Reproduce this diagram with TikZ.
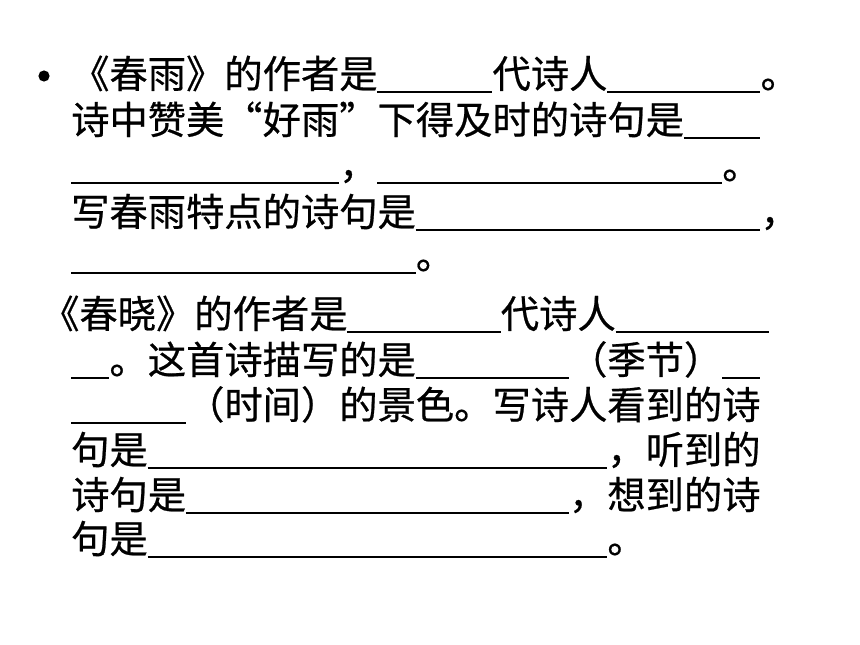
\documentclass[tikz,border=0pt]{standalone}
\usepackage{fontspec}
\setmainfont{Noto Sans CJK SC}[FakeBold=0.6]
\begin{document}
\begin{tikzpicture}[x=1pt,y=-1pt,
		every node/.style={anchor=base west,inner sep=0pt,font=\fontsize{38.3}{46}\selectfont},
		blank/.style={line width=2.2pt}]
		\useasboundingbox (0,0) rectangle (860,645);
		% bullet
		\fill (44,76) circle [radius=5.6];
		% chun yu
		\node (a1) at (71,88) {《春雨》的作者是};
		\node (a2) at (492.3,88) {代诗人};
		\node (a3) at (760.4,88) {。};
		\draw [blank] (377.4,92) -- (492.3,92) (607.2,92) -- (760.4,92);
		\node (b1) at (71,134) {诗中赞美};
		\node [anchor=base east] (b2) at (262.5,134) {“};
		\node (b3) at (262.5,134) {好雨};
		\node (b4) at (339.1,134) {”};
		\node (b5) at (377.4,134) {下得及时的诗句是};
		\draw [blank] (683.8,138) -- (760.4,138);
		\node (c1) at (339.1,179) {，};
		\node (c2) at (722.1,179) {。};
		\draw [blank] (71,183) -- (339.1,183) (377.4,183) -- (722.1,183);
		\node (d1) at (71,226) {写春雨特点的诗句是};
		\node (d2) at (760.4,226) {，};
		\draw [blank] (415.7,230) -- (760.4,230);
		\node (e1) at (415.7,269) {。};
		\draw [blank] (71,273) -- (415.7,273);
		% chun xiao
		\node (f1) at (41,328) {《春晓》的作者是};
		\node (f2) at (500.6,328) {代诗人};
		\draw [blank] (347.4,332) -- (500.6,332) (615.5,332) -- (768.7,332);
		\node (g1) at (109.3,374) {。这首诗描写的是};
		\node (g2) at (568.9,374) {（季节）};
		\draw [blank] (71,378) -- (109.3,378) (415.7,378) -- (568.9,378) (722.1,378) -- (760.4,378);
		\node (h1) at (185.9,419) {（时间）的景色。写诗人看到的诗};
		\draw [blank] (71,423) -- (185.9,423);
		\node (i1) at (71,464) {句是};
		\node (i2) at (607.2,464) {，听到的};
		\draw [blank] (147.6,468) -- (607.2,468);
		\node (j1) at (71,509) {诗句是};
		\node (j2) at (568.9,509) {，想到的诗};
		\draw [blank] (185.9,513) -- (568.9,513);
		\node (k1) at (71,553) {句是};
		\node (k2) at (607.2,553) {。};
		\draw [blank] (147.6,557) -- (607.2,557);
	\end{tikzpicture}
\end{document}
